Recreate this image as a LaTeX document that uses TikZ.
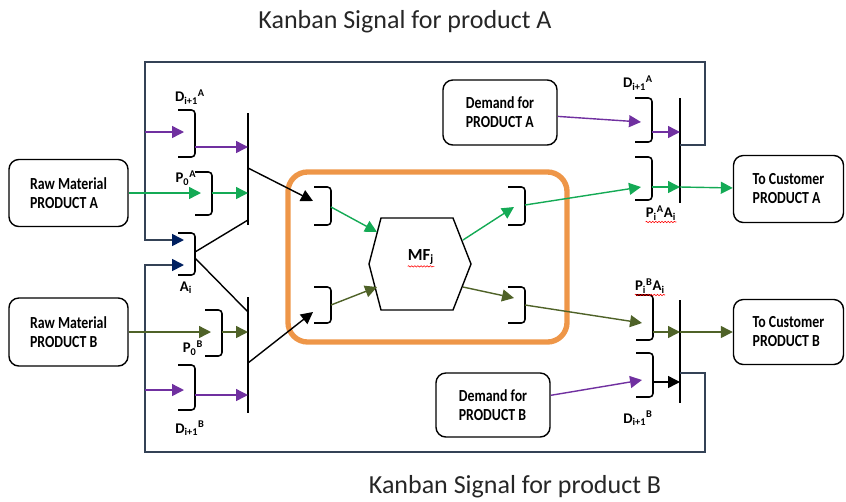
\documentclass[tikz,border=0pt]{standalone}
\usepackage{fontspec}
\setmainfont{Carlito}
\newfontfamily\boxfont{Carlito}[FakeStretch=0.82]
\usetikzlibrary{arrows.meta, decorations.pathmorphing}

\definecolor{kpurple}{RGB}{112,48,160}
\definecolor{kgreen}{RGB}{20,170,85}
\definecolor{kolive}{RGB}{79,98,40}
\definecolor{knavy}{RGB}{0,32,96}
\definecolor{kframe}{RGB}{52,66,86}
\definecolor{korange}{RGB}{238,150,72}

% sub- and superscript after a letter
\newcommand{\subsup}[2]{\textsubscript{#1}\textsuperscript{#2}}

\tikzset{
  sig/.style={line width=1pt, -{Triangle[length=8.5pt,width=8.5pt]}},
  link/.style={line width=1pt},
  loopline/.style={draw=kframe, line width=1.2pt, -{Triangle[length=8.5pt,width=8.5pt,color=knavy]}},
  box/.style={draw, rounded corners=7pt, line width=1pt, align=left, inner sep=0pt,
    font=\boxfont\bfseries\fontsize{12}{13.5}\selectfont},
  bar/.style={fill=black, inner sep=0pt, minimum width=1.2pt},
  cell/.style={draw=korange, line width=3.8pt, rounded corners=14pt},
  hexline/.style={line width=1pt},
  lbl/.style={inner sep=0pt, font=\bfseries\fontsize{10.5}{11}\selectfont},
  heading/.style={font=\fontsize{18.5}{22}\selectfont, text=black!85},
  spell/.style={draw=red, line width=0.4pt, decorate,
    decoration={snake, amplitude=0.5pt, segment length=2.2pt}},
  pics/kbrack/.style args={#1/#2/#3}{code={
    \draw[line width=1.1pt, rounded corners=2.5pt] (-17,0) -- (0,0) -- (0,#1) -- (-17,#1);
    \coordinate (-in) at (-11,#2);
    \coordinate (-out) at (0,#3);
  }},
}

\begin{document}
\begin{tikzpicture}[x=0.025cm, y=-0.025cm]
  \useasboundingbox (0,0) rectangle (846,501);

  % headings
  \node[heading] (headA) at (405,22) {Kanban Signal for product A};
  \node[heading] (headB) at (515,487) {Kanban Signal for product B};

  % boxes
  \node[box, minimum width=2.975cm, minimum height=1.675cm] (rawA) at (68.5,193) {Raw Material\\PRODUCT A};
  \node[box, minimum width=2.975cm, minimum height=1.7cm] (rawB) at (68.5,332) {Raw Material\\PRODUCT B};
  \node[box, minimum width=2.85cm, minimum height=1.625cm] (demA) at (500,112.5) {Demand for\\PRODUCT A};
  \node[box, minimum width=2.85cm, minimum height=1.6cm] (demB) at (493,405) {Demand for\\PRODUCT B};
  \node[box, minimum width=2.75cm, minimum height=1.675cm] (custA) at (788.5,189) {To Customer\\PRODUCT A};
  \node[box, minimum width=2.75cm, minimum height=1.625cm] (custB) at (788.5,332) {To Customer\\PRODUCT B};

  % manufacturing cell
  \node[cell, minimum width=6.975cm, minimum height=4.25cm] (cell) at (427.5,257) {};
  \draw[hexline] (381,218) -- (453,218) -- (471,264) -- (453,310) -- (381,310) -- (369,264) -- cycle;
  \node[lbl, font=\bfseries\fontsize{12}{13}\selectfont] (mf) at (421,257) {MF\textsubscript{j}};
  \coordinate (mf-inA) at (377,232);
  \coordinate (mf-inB) at (377,287);
  \coordinate (mf-outA) at (463,240);
  \coordinate (mf-outB) at (463,287);

  % bars
  \node[bar, minimum height=2.8cm] (barLA) at (248,169) {};
  \node[bar, minimum height=2.9cm] (barLB) at (248,355) {};
  \node[bar, minimum height=2.625cm] (barRA) at (680,150.5) {};
  \node[bar, minimum height=2.575cm] (barRB) at (680,351.5) {};

  % brackets
  \pic (bDA) at (195,110) {kbrack=47/22/37};
  \pic (bPA) at (212,172) {kbrack=43/21/21};
  \pic (bAi) at (195,233) {kbrack=42/7/21};
  \pic (bPB) at (222,310) {kbrack=46/22/22};
  \pic (bDB) at (195,365) {kbrack=45/25/30};
  \pic (bCLA) at (331,187) {kbrack=38/19/20};
  \pic (bCLB) at (331,287) {kbrack=36/18/18};
  \pic (bCRA) at (525,187) {kbrack=38/20/18};
  \pic (bCRB) at (525,287) {kbrack=36/11/18};
  \pic (bRDA) at (652,98) {kbrack=44/24/34};
  \pic (bRPA) at (652,157) {kbrack=43/30/30};
  \pic (bRPB) at (653,295) {kbrack=45/28/37};
  \pic (bRDB) at (653,353) {kbrack=44/27/29};

  % kanban loops
  \coordinate (loopA) at (145,240);
  \coordinate (loopB) at (145,265);
  \coordinate (bAi-in2) at (184,265);
  \coordinate (rA-fb) at (680,145);
  \coordinate (rB-fb) at (680,373);
  \draw[loopline] (rA-fb) -| (705,62) -| (loopA) -- (bAi-in);
  \draw[loopline] (rB-fb) -| (705,452) -| (loopB) -- (bAi-in2);
  \draw[sig, kpurple] (loopA |- bDA-in) -- (bDA-in);
  \draw[sig, kpurple] (loopB |- bDB-in) -- (bDB-in);

  % left side
  \draw[sig, kpurple] (bDA-out) -- (bDA-out -| barLA);
  \draw[sig, kgreen] (rawA) -- (bPA-in);
  \draw[sig, kgreen] (bPA-out) -- (bPA-out -| barLA);
  \draw[sig, kolive] (rawB) -- (bPB-in);
  \draw[sig, kolive] (bPB-out) -- (bPB-out -| barLB);
  \draw[sig, kpurple] (bDB-out) -- (bDB-out -| barLB);
  \coordinate (ai-up) at (195,252);
  \coordinate (ai-dn) at (195,258);
  \coordinate (la-in) at (248,220);
  \coordinate (lb-in) at (248,312);
  \draw[link] (ai-up) -- (la-in);
  \draw[link] (ai-dn) -- (lb-in);
  \coordinate (la-out) at (248,168);
  \coordinate (lb-out) at (248,363);
  \coordinate (cla-tip) at (313,201);
  \coordinate (clb-tip) at (313,312);
  \draw[sig] (la-out) -- (cla-tip);
  \draw[sig] (lb-out) -- (clb-tip);

  % inside the cell
  \draw[sig, kgreen] (bCLA-out) -- (mf-inA);
  \draw[sig, kolive] (bCLB-out) -- (mf-inB);
  \draw[sig, kgreen] (mf-outA) -- (bCRA-in);
  \draw[sig, kolive] (mf-outB) -- (bCRB-in);

  % right side
  \draw[sig, kgreen] (bCRA-out) -- (bRPA-in);
  \draw[sig, kolive] (bCRB-out) -- (bRPB-in);
  \draw[sig, kpurple] (demA) -- (bRDA-in);
  \draw[sig, kpurple] (bRDA-out) -- (bRDA-out -| barRA);
  \draw[sig, kgreen] (bRPA-out) -- (bRPA-out -| barRA);
  \draw[sig, kgreen] (bRPA-out -| barRA) -- (custA);
  \draw[sig, kolive] (bRPB-out) -- (bRPB-out -| barRB);
  \draw[sig, kolive] (bRPB-out -| barRB) -- (custB);
  \draw[sig, kpurple] (demB) -- (bRDB-in);
  \draw[sig] (bRDB-out) -- (bRDB-out -| barRB);

  % labels
  \node[lbl] (lDA) at (190,97) {D\subsup{i+1}{A}};
  \node[lbl] (lPA) at (186,178) {P\subsup{0}{A}};
  \node[lbl] (lAi) at (186,288) {A\textsubscript{i}};
  \node[lbl] (lPB) at (193,348) {P\subsup{0}{B}};
  \node[lbl] (lDB) at (190,428) {D\subsup{i+1}{B}};
  \node[lbl] (lRDA) at (638,83) {D\subsup{i+1}{A}};
  \node[lbl] (lRPA) at (661,213) {P\subsup{i}{A}A\textsubscript{i}};
  \node[lbl] (lRPB) at (650,286) {P\subsup{i}{B}A\textsubscript{i}};
  \node[lbl] (lRDB) at (638,418) {D\subsup{i+1}{B}};
  \draw[spell] ([yshift=-1pt]mf.south west) -- ([yshift=-1pt]mf.south east);
  \draw[spell] ([yshift=-1pt]lRPA.south west) -- ([yshift=-1pt]lRPA.south east);
  \draw[spell] ([yshift=-1pt]lRPB.south west) -- ([yshift=-1pt]lRPB.south east);
\end{tikzpicture}
\end{document}
